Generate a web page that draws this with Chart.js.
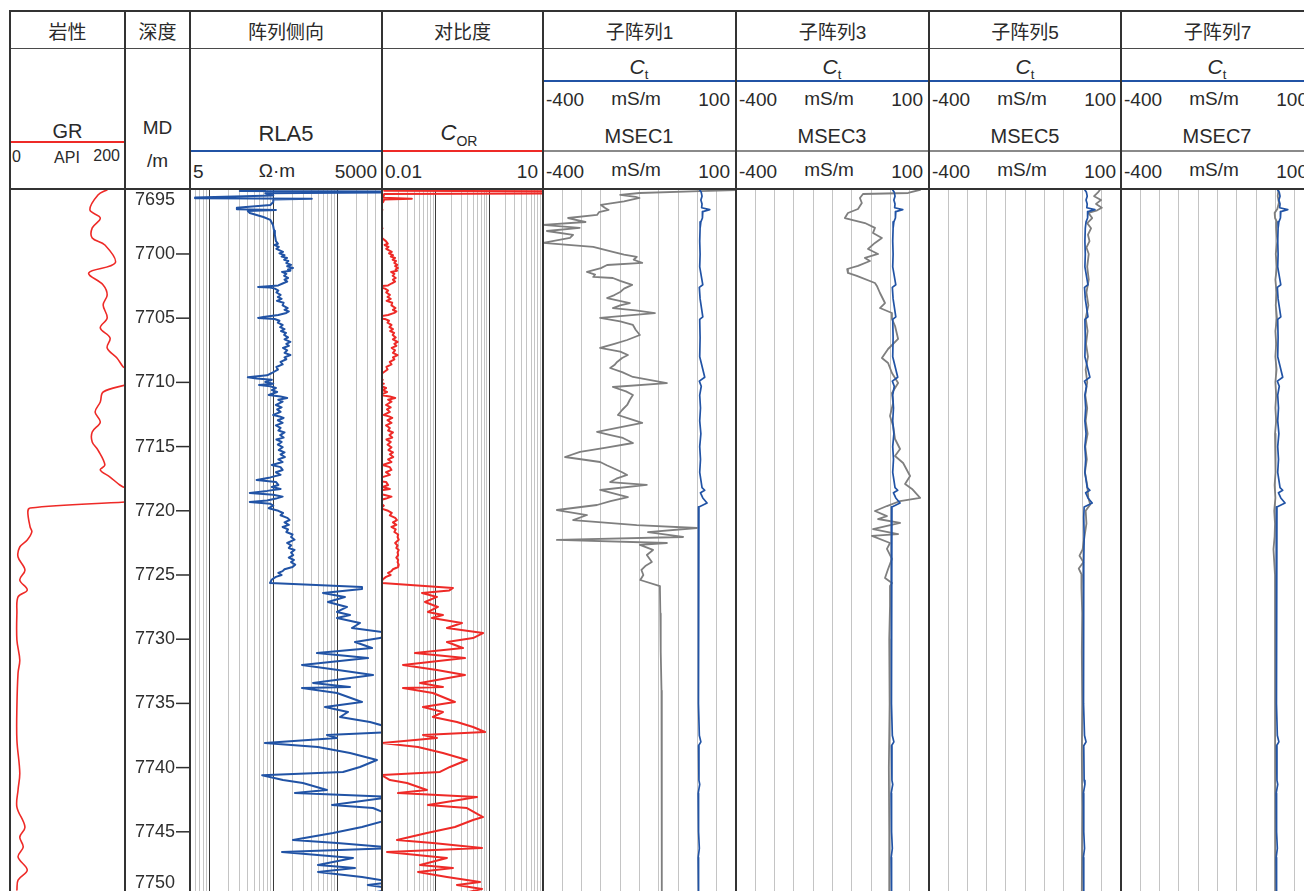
<!DOCTYPE html>
<html>
<head>
<meta charset="utf-8">
<script src="https://cdn.jsdelivr.net/npm/chart.js@4.4.1/dist/chart.umd.min.js"></script>
<style>
html, body { margin: 0; padding: 0; background: #fff; overflow: hidden; }
#log { position: relative; width: 1330px; height: 891px; overflow: hidden;
       font-family: "Liberation Sans", Arial, "Noto Sans CJK SC", sans-serif; color: #2a2a2a; }
.t { position: absolute; white-space: nowrap; line-height: 1; }
.c { transform: translate(-50%, -50%); }
.l { transform: translate(0, -50%); }
.r { transform: translate(-100%, -50%); }
.cjk { font-family: "Liberation Sans", "Noto Sans CJK SC", sans-serif; }
.line { position: absolute; }
canvas { position: absolute; top: 189px; }
</style>
</head>
<body>
<div id="log"></div>
<script>
// ---------------- data: [depth m, value] ----------------
const depthTicks = [7695, 7700, 7705, 7710, 7715, 7720, 7725, 7730, 7735, 7740, 7745, 7750];
const trackTitles = ['岩性', '深度', '阵列侧向', '对比度', '子阵列1', '子阵列3', '子阵列5', '子阵列7'];
const msecNames = ['MSEC1', 'MSEC3', 'MSEC5', 'MSEC7'];

// GR, API
const grCurve = [[7695.00,169],[7695.40,153],[7696.57,139],[7697.20,157],[7697.97,143],[7698.75,143],[7699.30,165],[7700.70,183],[7701.48,137],[7702.41,162],[7703.19,169],[7703.97,162],[7704.98,169],[7705.76,157],[7706.54,174],[7707.32,169],[7708.10,186],[7708.80,197],[7708.88,201],[7709.30,225],[7709.90,225],[7710.20,201],[7710.75,162],[7711.53,157],[7712.31,148],[7713.09,157],[7713.86,143],[7714.64,143],[7715.27,153],[7716.43,165],[7716.82,157],[7717.37,174],[7717.99,191],[7718.22,201],[7718.60,235],[7719.20,235],[7719.31,201],[7719.78,35],[7720.09,31],[7721.26,35],[7721.64,38],[7722.27,30],[7722.82,17],[7723.60,14],[7724.61,26],[7725.39,17],[7726.17,30],[7726.71,14],[7727.96,12],[7730.06,12],[7731.62,17],[7732.63,14],[7735.28,12],[7737.85,12],[7740.42,17],[7741.74,14],[7743.07,12],[7744.63,26],[7745.41,17],[7746.18,23],[7746.96,14],[7747.98,30],[7748.76,14],[7749.53,12]];

// RLA5, ohm-m
const rla5Curve = [[7695.02,74],[7695.10,30],[7695.13,9000],[7695.20,9000],[7695.28,75],[7695.45,100],[7695.60,6],[7695.66,6],[7695.70,400],[7695.76,100],[7695.95,100],[7696.18,90],[7696.40,27],[7696.52,27],[7696.57,110],[7696.65,40],[7696.81,43],[7697.12,70],[7697.35,90],[7697.74,99],[7698.20,103],[7698.52,106],
[7699.00,110],[7699.20,118],[7699.30,105],[7699.45,122],[7699.60,112],[7699.84,142],[7699.95,125],[7700.10,150],[7700.20,135],[7700.31,164],[7700.45,148],[7700.55,172],[7700.70,160],[7700.85,190],[7700.95,165],[7701.09,203],[7701.20,170],[7701.30,185],[7701.40,137],[7701.55,160],[7701.70,148],[7701.87,170],[7702.00,150],[7702.15,165],[7702.30,140],[7702.45,120],[7702.57,58],[7702.62,90],[7702.70,106],[7702.85,120],[7703.00,112],[7703.19,130],[7703.35,118],[7703.50,135],[7703.65,114],[7703.80,145],[7704.00,140],[7704.21,168],[7704.35,150],[7704.48,175],[7704.59,160],[7704.75,120],[7704.90,70],[7704.98,58],[7705.06,105],[7705.20,125],[7705.35,118],[7705.53,140],[7705.70,128],[7705.85,150],[7706.00,132],[7706.15,158],[7706.31,148],[7706.50,170],[7706.65,150],[7706.85,185],[7707.00,160],[7707.15,175],[7707.32,142],[7707.50,165],[7707.70,150],[7707.87,185],[7708.05,150],[7708.20,160],[7708.41,130],[7708.60,140],[7708.80,112],[7709.00,118],[7709.27,95],[7709.45,80],[7709.60,40],[7709.70,55],[7709.80,95],[7709.97,75],[7710.10,100],[7710.20,60],[7710.30,90],[7710.44,110],[7710.60,95],[7710.75,115],[7710.98,85],[7711.10,130],[7711.21,165],[7711.35,120],[7711.50,140],[7711.76,110],[7711.95,135],[7712.10,115],[7712.30,130],[7712.54,100],[7712.65,125],[7712.77,145],[7712.95,118],[7713.15,140],[7713.35,110],[7713.55,130],[7713.75,120],[7713.90,150],[7714.10,128],[7714.30,145],[7714.45,112],[7714.64,135],[7714.85,118],[7715.05,140],[7715.27,122],[7715.45,150],[7715.60,130],[7715.81,152],[7716.00,120],[7716.20,140],[7716.43,95],[7716.60,130],[7716.82,140],[7717.00,110],[7717.20,130],[7717.40,90],[7717.60,55],[7717.75,110],[7717.99,120],[7718.15,95],[7718.30,130],[7718.45,80],[7718.61,43],[7718.75,100],[7718.90,140],[7719.05,110],[7719.20,80],[7719.31,43],[7719.45,90],[7719.60,100],[7719.80,85],[7720.00,120],[7720.17,142],[7720.35,130],[7720.55,165],[7720.72,180],[7720.90,150],[7721.10,175],[7721.26,140],[7721.45,170],[7721.65,160],[7721.85,200],[7722.04,190],[7722.25,215],[7722.51,165],[7722.70,190],[7722.90,175],[7723.05,215],[7723.25,190],[7723.45,205],[7723.65,175],[7723.83,210],[7724.00,190],[7724.20,220],[7724.38,200],[7724.55,150],[7724.70,140],[7724.84,120],[7725.00,135],[7725.15,110],[7725.35,95],[7725.62,89],
[7725.93,2435],[7726.10,2435],[7726.40,598],[7726.71,1316],[7727.10,716],[7727.49,1419],[7727.88,991],[7728.12,1581],[7728.35,991],[7728.74,2265],[7729.13,1695],[7729.52,6800],[7729.91,4655],[7730.22,1892],[7730.69,3490],[7731.08,482],[7731.47,3020],[7732.01,281],[7732.40,1027],[7732.79,3620],[7733.41,418],[7733.72,1581],[7733.80,281],[7734.19,991],[7734.89,2435],[7735.28,643],[7735.67,1472],[7736.06,1104],[7736.45,3245],[7736.84,6200],[7737.23,8200],[7737.46,690],[7737.69,991],[7738.08,74],[7738.40,500],[7738.86,1581],[7739.41,4165],[7739.95,2265],[7740.34,1228],[7740.60,67],[7740.97,142],[7741.20,290],[7741.74,690],[7741.98,218],[7742.29,7000],[7742.91,828],[7743.15,3620],[7743.85,8000],[7744.08,6000],[7744.63,2435],[7745.09,858],[7745.64,203],[7745.87,991],[7746.26,8200],[7746.57,137],[7747.04,1762],[7747.58,500],[7747.82,1892],[7748.13,500],[7748.52,2435],[7748.91,7600],[7749.14,3000],[7749.45,8000],[7749.70,4000]];

// COR contrast
const corCurve = [[7695.02,0.011],[7695.08,0.011],[7695.12,30],[7695.28,30],[7695.32,0.011],[7695.62,0.0105],[7695.70,0.036],[7695.76,0.011],[7695.95,0.0105],[7696.20,0.009],[7696.50,0.008],[7696.57,0.0102],[7696.65,0.008],[7697.50,0.009],[7698.00,0.0102],[7698.10,0.008],[7698.60,0.009],
[7699.00,0.0118],[7699.20,0.0128],[7699.30,0.0112],[7699.45,0.0132],[7699.60,0.0120],[7699.84,0.0152],[7699.95,0.0135],[7700.10,0.0160],[7700.20,0.0146],[7700.31,0.0175],[7700.45,0.0158],[7700.55,0.0182],[7700.70,0.0170],[7700.85,0.0192],[7700.95,0.0176],[7701.09,0.0198],[7701.20,0.0180],[7701.30,0.0190],[7701.40,0.0148],[7701.55,0.0170],[7701.70,0.0158],[7701.87,0.0180],[7702.00,0.0160],[7702.15,0.0175],[7702.30,0.0150],[7702.45,0.0130],[7702.57,0.0065],[7702.62,0.0098],[7702.70,0.0114],[7702.85,0.0130],[7703.00,0.0120],[7703.19,0.0140],[7703.35,0.0127],[7703.50,0.0145],[7703.65,0.0122],[7703.80,0.0155],[7704.00,0.0150],[7704.21,0.0178],[7704.35,0.0160],[7704.48,0.0185],[7704.59,0.0170],[7704.75,0.0130],[7704.90,0.0078],[7704.98,0.0065],[7705.06,0.0113],[7705.20,0.0135],[7705.35,0.0127],[7705.53,0.0150],[7705.70,0.0138],[7705.85,0.0160],[7706.00,0.0142],[7706.15,0.0168],[7706.31,0.0158],[7706.50,0.0180],[7706.65,0.0160],[7706.85,0.0195],[7707.00,0.0170],[7707.15,0.0185],[7707.32,0.0152],[7707.50,0.0175],[7707.70,0.0160],[7707.87,0.0195],[7708.05,0.0160],[7708.20,0.0170],[7708.41,0.0140],[7708.60,0.0150],[7708.80,0.0121],[7709.00,0.0127],[7709.27,0.0103],[7709.45,0.0088],[7709.60,0.0045],[7709.70,0.0060],[7709.80,0.0103],[7709.97,0.0082],[7710.10,0.0108],[7710.20,0.0066],[7710.30,0.0098],[7710.44,0.0119],[7710.60,0.0103],[7710.75,0.0124],[7710.98,0.0093],[7711.10,0.0140],[7711.21,0.0176],[7711.35,0.0130],[7711.50,0.0150],[7711.76,0.0119],[7711.95,0.0145],[7712.10,0.0124],[7712.30,0.0140],[7712.54,0.0108],[7712.65,0.0135],[7712.77,0.0155],[7712.95,0.0127],[7713.15,0.0150],[7713.35,0.0119],[7713.55,0.0140],[7713.75,0.0130],[7713.90,0.0160],[7714.10,0.0138],[7714.30,0.0155],[7714.45,0.0121],[7714.64,0.0145],[7714.85,0.0127],[7715.05,0.0150],[7715.27,0.0132],[7715.45,0.0160],[7715.60,0.0140],[7715.81,0.0162],[7716.00,0.0130],[7716.20,0.0150],[7716.43,0.0103],[7716.60,0.0140],[7716.82,0.0150],[7717.00,0.0119],[7717.20,0.0140],[7717.40,0.0098],[7717.60,0.0060],[7717.75,0.0119],[7717.99,0.0130],[7718.15,0.0103],[7718.30,0.0140],[7718.45,0.0087],[7718.61,0.0047],[7718.75,0.0108],[7718.90,0.0150],[7719.05,0.0119],[7719.20,0.0087],[7719.31,0.0047],[7719.45,0.0098],[7719.60,0.0108],[7719.80,0.0093],[7720.00,0.0130],[7720.17,0.0152],[7720.35,0.0140],[7720.55,0.0176],[7720.72,0.0190],[7720.90,0.0160],[7721.10,0.0185],[7721.26,0.0150],[7721.45,0.0180],[7721.65,0.0170],[7721.85,0.0200],[7722.04,0.0195],[7722.25,0.0205],[7722.51,0.0176],[7722.70,0.0195],[7722.90,0.0185],[7723.05,0.0205],[7723.25,0.0195],[7723.45,0.0200],[7723.65,0.0185],[7723.83,0.0200],[7724.00,0.0195],[7724.20,0.0205],[7724.38,0.0200],[7724.55,0.0160],[7724.70,0.0150],[7724.84,0.0130],[7725.00,0.0145],[7725.15,0.0119],[7725.35,0.0103],[7725.62,0.0098],
[7726.01,0.2099],[7726.20,0.18],[7726.40,0.0556],[7726.71,0.1057],[7727.10,0.0632],[7727.49,0.1103],[7727.88,0.0718],[7728.12,0.1366],[7728.35,0.0851],[7728.74,0.3087],[7729.13,0.1623],[7729.52,0.7627],[7729.91,0.4968],[7730.22,0.1623],[7730.69,0.3223],[7731.08,0.0412],[7731.47,0.3513],[7732.01,0.0246],[7732.40,0.1057],[7732.79,0.3513],[7733.41,0.0511],[7733.72,0.1366],[7733.80,0.0246],[7734.19,0.0888],[7734.89,0.2285],[7735.28,0.0580],[7735.67,0.1366],[7736.06,0.0888],[7736.45,0.2489],[7736.84,0.4968],[7737.23,0.8307],[7737.46,0.0580],[7737.69,0.1057],[7738.08,0.0098],[7738.40,0.0469],[7738.86,0.1366],[7739.41,0.3830],[7739.95,0.1848],[7740.34,0.1201],[7740.58,0.0098],[7740.97,0.0141],[7741.20,0.0292],[7741.74,0.0688],[7741.98,0.0199],[7742.29,0.5899],[7742.91,0.0718],[7743.15,0.3830],[7743.85,0.7627],[7744.08,0.4968],[7744.63,0.2285],[7745.09,0.0688],[7745.64,0.0190],[7745.87,0.0888],[7746.26,0.7307],[7746.57,0.0124],[7747.04,0.1623],[7747.58,0.0511],[7747.82,0.2099],[7748.13,0.0469],[7748.52,0.1623],[7748.91,0.6709],[7749.14,0.2489],[7749.45,0.7307],[7749.70,0.40]];

// Ct, mS/m (plotted in every sub-array track)
const ctCurve = [[7695.02,6],[7695.20,10],[7695.50,12],[7695.80,9],[7696.10,12],[7696.40,11],[7696.55,32],[7696.70,14],[7697.20,13],[7697.50,9],[7698.00,7],[7699.00,6],[7700.00,7],[7701.00,6],[7702.40,14],[7702.60,5],[7703.50,7],[7704.90,14],[7705.10,6],[7706.50,7],[7708.00,6],[7709.60,19],[7709.90,5],[7710.30,10],[7711.00,6],[7712.00,8],[7713.00,6],[7714.00,9],[7715.00,6],[7716.00,8],[7717.00,6],[7718.20,12],[7718.40,19],[7718.60,8],[7719.00,14],[7719.40,25],[7719.70,4],[7720.50,3],[7722.00,4],[7724.00,3],[7726.00,2],[7728.00,3],[7730.00,2],[7733.00,3],[7735.00,2],[7737.50,5],[7738.00,9],[7738.30,3],[7741.00,4],[7741.30,6],[7742.00,2],[7745.00,3],[7746.30,5],[7747.00,2],[7749.70,3]];

// MSEC1, mS/m
const msec1Curve = [[7695.02,100],[7695.10,7],[7695.25,-150],[7695.40,-200],[7695.55,-160],[7695.64,-150],[7695.90,-190],[7696.18,-250],[7696.40,-240],[7696.57,-230],[7696.75,-255],[7696.96,-260],[7697.20,-335],[7697.51,-290],[7697.74,-400],[7697.97,-305],[7698.21,-390],[7698.52,-322],[7698.75,-330],[7699.14,-400],[7699.45,-270],[7699.84,-219],[7700.05,-190],[7700.23,-157],[7700.45,-165],[7700.70,-143],[7700.86,-234],[7701.10,-250],[7701.40,-286],[7701.60,-265],[7701.79,-270],[7701.87,-219],[7702.10,-200],[7702.41,-169],[7702.70,-190],[7702.96,-200],[7703.20,-215],[7703.43,-234],[7703.82,-175],[7704.00,-200],[7704.21,-219],[7704.40,-160],[7704.60,-110],[7704.98,-252],[7705.25,-200],[7705.53,-167],[7705.90,-160],[7706.31,-149],[7706.70,-182],[7707.00,-215],[7707.32,-252],[7707.60,-200],[7707.87,-180],[7708.10,-195],[7708.41,-208],[7708.65,-215],[7708.88,-226],[7709.20,-195],[7709.58,-167],[7710.05,-79],[7710.36,-219],[7710.70,-185],[7710.98,-167],[7711.35,-175],[7711.76,-182],[7712.15,-195],[7712.54,-206],[7712.85,-175],[7713.16,-143],[7713.86,-260],[7714.10,-225],[7714.33,-193],[7714.72,-167],[7715.10,-240],[7715.42,-304],[7715.81,-343],[7716.20,-252],[7716.45,-235],[7716.67,-219],[7717.00,-195],[7717.21,-182],[7717.50,-210],[7717.76,-226],[7717.99,-131],[7718.38,-252],[7718.70,-210],[7718.93,-180],[7719.25,-225],[7719.55,-260],[7719.94,-364],[7720.33,-286],[7720.72,-322],[7721.11,-157],[7721.34,-1],[7721.66,-128],[7722.04,-37],[7722.27,-364],[7722.51,-79],[7722.66,-149],[7723.05,-115],[7723.44,-131],[7723.99,-118],[7724.30,-135],[7724.61,-145],[7725.00,-140],[7725.39,-148],[7725.86,-97],[7726.17,-97],[7728.00,-96],[7731.00,-95],[7734.00,-93],[7737.00,-92],[7740.00,-92],[7743.00,-93],[7746.00,-92],[7749.70,-92]];

// MSEC3, mS/m
const msec3Curve = [[7695.00,77],[7695.25,46],[7695.33,-71],[7695.64,-79],[7696.03,-74],[7696.50,-84],[7696.81,-110],[7697.20,-118],[7697.59,-66],[7697.97,-40],[7698.36,-45],[7698.75,-22],[7699.14,-40],[7699.61,-58],[7700.00,-32],[7700.31,-66],[7700.55,-53],[7700.93,-84],[7701.17,-112],[7701.48,-110],[7701.71,-87],[7702.26,-40],[7702.49,-35],[7703.04,-27],[7703.82,-14],[7704.21,-27],[7704.60,4],[7705.06,4],[7705.61,12],[7706.62,20],[7707.40,-6],[7708.10,-22],[7708.49,-6],[7709.27,4],[7710.05,20],[7710.83,4],[7711.60,7],[7712.62,-1],[7713.39,7],[7714.41,12],[7715.19,25],[7715.73,12],[7716.28,33],[7717.29,51],[7717.91,38],[7718.30,56],[7719.00,77],[7719.24,25],[7719.63,-9],[7720.02,-40],[7720.41,-9],[7720.64,-32],[7720.95,25],[7721.42,-45],[7721.81,20],[7721.96,-48],[7722.51,-1],[7722.97,-9],[7723.75,4],[7724.53,-6],[7725.23,-14],[7725.62,4],[7725.86,-1],[7727.41,-1],[7730.00,-3],[7735.00,-2],[7740.00,-4],[7745.00,-3],[7749.70,-3]];

// MSEC5, mS/m
const msec5Curve = [[7695.02,45],[7695.20,40],[7695.50,30],[7695.80,48],[7696.10,35],[7696.40,50],[7696.60,38],[7696.80,15],[7697.20,25],[7697.60,12],[7698.00,22],[7698.50,14],[7699.00,18],[7699.50,10],[7700.00,16],[7701.00,12],[7702.00,16],[7703.00,10],[7704.00,15],[7705.00,8],[7706.00,13],[7707.00,9],[7708.00,14],[7709.00,8],[7710.00,12],[7711.00,7],[7712.00,12],[7713.00,8],[7714.00,13],[7715.00,7],[7716.00,11],[7717.00,6],[7718.00,12],[7719.00,15],[7719.50,20],[7720.00,8],[7721.00,10],[7722.00,5],[7723.00,0],[7723.50,-8],[7724.00,2],[7724.50,-10],[7725.00,-2],[7726.00,-3],[7728.00,-1],[7731.00,-2],[7735.00,-1],[7739.00,-2],[7743.00,-1],[7749.70,-2]];

// MSEC7, mS/m
const msec7Curve = [[7695.00,8],[7695.50,6],[7696.00,9],[7696.50,5],[7696.80,-2],[7697.20,-1],[7697.50,4],[7698.00,2],[7699.00,5],[7700.00,1],[7701.00,4],[7702.00,0],[7703.00,3],[7704.00,1],[7705.00,4],[7706.00,0],[7707.00,2],[7708.00,0],[7709.00,3],[7710.00,0],[7711.00,2],[7712.00,0],[7713.00,2],[7714.00,-1],[7715.00,1],[7716.00,-1],[7717.00,1],[7718.00,-2],[7719.00,0],[7720.00,-3],[7721.00,-1],[7722.00,-2],[7723.00,-5],[7724.00,-3],[7725.00,-1],[7727.00,-1],[7731.00,0],[7735.00,-1],[7739.00,-1],[7743.00,0],[7747.00,-1],[7749.70,-1]];

// ---------------- layout ----------------
const DEPTH_TOP = 7694.94;              // depth at the top of the data area
const DEPTH_BOTTOM = 7749.61;           // depth at the bottom of the page
const DATA_H = 702;
const trackLeft  = [10, 125, 190, 382, 543, 736, 929, 1121];
const trackWidth = [115, 65, 192, 161, 193, 193, 192, 193];

const BLUE = '#2153a5', RED = '#ee2a27', GRAY = '#7f7f7f';
const log = document.getElementById('log');

function text(html, x, y, size, align, cls) {
  const d = document.createElement('div');
  d.className = 't ' + align + (cls ? ' ' + cls : '');
  d.style.left = x + 'px';
  d.style.top = y + 'px';
  d.style.fontSize = size + 'px';
  d.innerHTML = html;
  log.appendChild(d);
}
function rule(x, y, w, h, color) {
  const d = document.createElement('div');
  d.className = 'line';
  Object.assign(d.style, { left: x + 'px', top: y + 'px', width: w + 'px', height: h + 'px', background: color });
  log.appendChild(d);
}
function makeCanvas(i) {
  const c = document.createElement('canvas');
  c.width = trackWidth[i];
  c.height = DATA_H;
  c.style.left = trackLeft[i] + 'px';
  log.appendChild(c);
  return c;
}
const toPoints = curve => curve.map(([d, v]) => ({ x: v, y: d }));
const isDecade = v => Math.abs(Math.log10(v) - Math.round(Math.log10(v))) < 1e-9;

function valueAxis(type, min, max, gridValues, isMajor) {
  return {
    type, min, max, position: 'top',
    ticks: { display: false },
    border: { display: false },
    grid: {
      drawTicks: false,
      lineWidth: 1,
      color: ctx => (ctx.tick && isMajor(ctx.tick.value)) ? '#3a3a3a' : '#c4c4c4'
    },
    afterBuildTicks: axis => { axis.ticks = gridValues.map(v => ({ value: v })); },
    afterFit: axis => { axis.height = 0; }
  };
}
const depthAxis = { type: 'linear', reverse: true, min: DEPTH_TOP, max: DEPTH_BOTTOM, display: false };

function lineSet(points, color, width, tension) {
  return {
    data: points, showLine: true, borderColor: color, backgroundColor: color,
    borderWidth: width, pointRadius: 0, tension: tension || 0,
    borderJoinStyle: 'round', borderCapStyle: 'round'
  };
}
function trackChart(i, xAxis, datasets, plugins) {
  return new Chart(makeCanvas(i), {
    type: 'scatter',
    data: { datasets },
    options: {
      responsive: false, animation: false, devicePixelRatio: 1,
      layout: { padding: 0 },
      plugins: { legend: { display: false }, tooltip: { enabled: false } },
      scales: { x: xAxis, y: depthAxis }
    },
    plugins: plugins || []
  });
}

// grid positions
const rlaGrid = [6, 7, 8, 9, 10, 20, 30, 40, 50, 60, 70, 80, 90, 100, 200, 300, 400, 500, 600, 700, 800, 900, 1000, 2000, 3000, 4000];
const corGrid = [0.02, 0.03, 0.04, 0.05, 0.06, 0.07, 0.08, 0.09, 0.1, 0.2, 0.3, 0.4, 0.5, 0.6, 0.7, 0.8, 0.9, 1, 2, 3, 4, 5, 6, 7, 8, 9];
const msecGrid = [-350, -300, -250, -200, -150, -100, -50, 0, 50];

// ---------------- data tracks ----------------
// GR
trackChart(0, valueAxis('linear', 0, 200, [], () => false),
  [lineSet(toPoints(grCurve), RED, 1.6, 0.35)]);

// depth scale
const depthLabels = {
  id: 'depthLabels',
  afterDraw(chart) {
    const ctx = chart.ctx, ys = chart.scales.y, W = chart.width, H = chart.height;
    ctx.save();
    ctx.fillStyle = '#2e2e2e';
    ctx.strokeStyle = '#2e2e2e';
    ctx.lineWidth = 1.5;
    ctx.font = '18px "Liberation Sans", Arial, sans-serif';
    ctx.textAlign = 'right';
    ctx.textBaseline = 'middle';
    depthTicks.forEach(d => {
      const y = ys.getPixelForValue(d);
      if (y > 3 && y < H - 2) {
        ctx.beginPath();
        ctx.moveTo(W - 14, y);
        ctx.lineTo(W, y);
        ctx.stroke();
      }
      const ly = Math.min(Math.max(y, 11), H - 8);
      ctx.fillText(String(d), W - 15, ly);
    });
    ctx.restore();
  }
};
trackChart(1, { type: 'linear', min: 0, max: 1, display: false }, [], [depthLabels]);

// RLA5
trackChart(2, valueAxis('logarithmic', 5, 5000, rlaGrid, isDecade),
  [lineSet(toPoints(rla5Curve), BLUE, 2)]);

// COR
trackChart(3, valueAxis('logarithmic', 0.01, 10, corGrid, isDecade),
  [lineSet(toPoints(corCurve), RED, 2)]);

// sub-array tracks
[msec1Curve, msec3Curve, msec5Curve, msec7Curve].forEach((curve, k) => {
  trackChart(4 + k, valueAxis('linear', -400, 100, msecGrid, () => false), [
    lineSet(toPoints(ctCurve), BLUE, 1.7),
    lineSet(toPoints(curve), GRAY, 1.8)
  ]);
});

// ---------------- header ----------------
trackTitles.forEach((t, i) => text(t, trackLeft[i] + trackWidth[i] / 2, 32, 19, 'c', 'cjk'));

// GR
text('GR', 67.5, 131, 20, 'c');
rule(10, 141, 115, 2, RED);
text('0', 12, 157, 16, 'l');
text('API', 67, 158, 16, 'c');
text('200', 120, 156, 16, 'r');
// depth
text('MD', 157.5, 127, 19, 'c');
text('/m', 157.5, 160, 19, 'c');
// RLA5
text('RLA5', 286, 134, 22, 'c');
rule(190, 150, 192, 2, BLUE);
text('5', 193, 171, 19, 'l');
text('Ω·m', 277, 170, 19, 'c');
text('5000', 377, 171, 19, 'r');
// COR
text('<span style="font-style:italic;font-size:22px">C</span><span style="font-size:14px;position:relative;top:6px">OR</span>', 459, 133, 22, 'c');
rule(382, 150, 161, 2, RED);
text('0.01', 385, 171, 19, 'l');
text('10', 538, 171, 19, 'r');
// sub-arrays
msecNames.forEach((name, k) => {
  const L = trackLeft[4 + k], W = trackWidth[4 + k];
  text('<span style="font-style:italic">C</span><span style="font-size:13px;position:relative;top:5px">t</span>', L + 96, 66, 21, 'c');
  rule(L, 79.5, W, 2, BLUE);
  text('-400', L + 3, 99, 19, 'l');
  text('mS/m', L + 93, 97.5, 19, 'c');
  text('100', L + 187, 99, 19, 'r');
  text(name, L + 96, 136, 20, 'c');
  rule(L, 150, W, 2, '#8a8a8a');
  text('-400', L + 3, 171, 19, 'l');
  text('mS/m', L + 93, 169, 19, 'c');
  text('100', L + 187, 171, 19, 'r');
});

// frame
rule(9, 10, 1330, 2, '#333');
rule(9, 48, 1330, 1, '#4a4a4a');
rule(9, 188, 1330, 2, '#333');
trackLeft.forEach(x => rule(x - 1, 10, 2, 891, '#333'));
</script>
</body>
</html>
